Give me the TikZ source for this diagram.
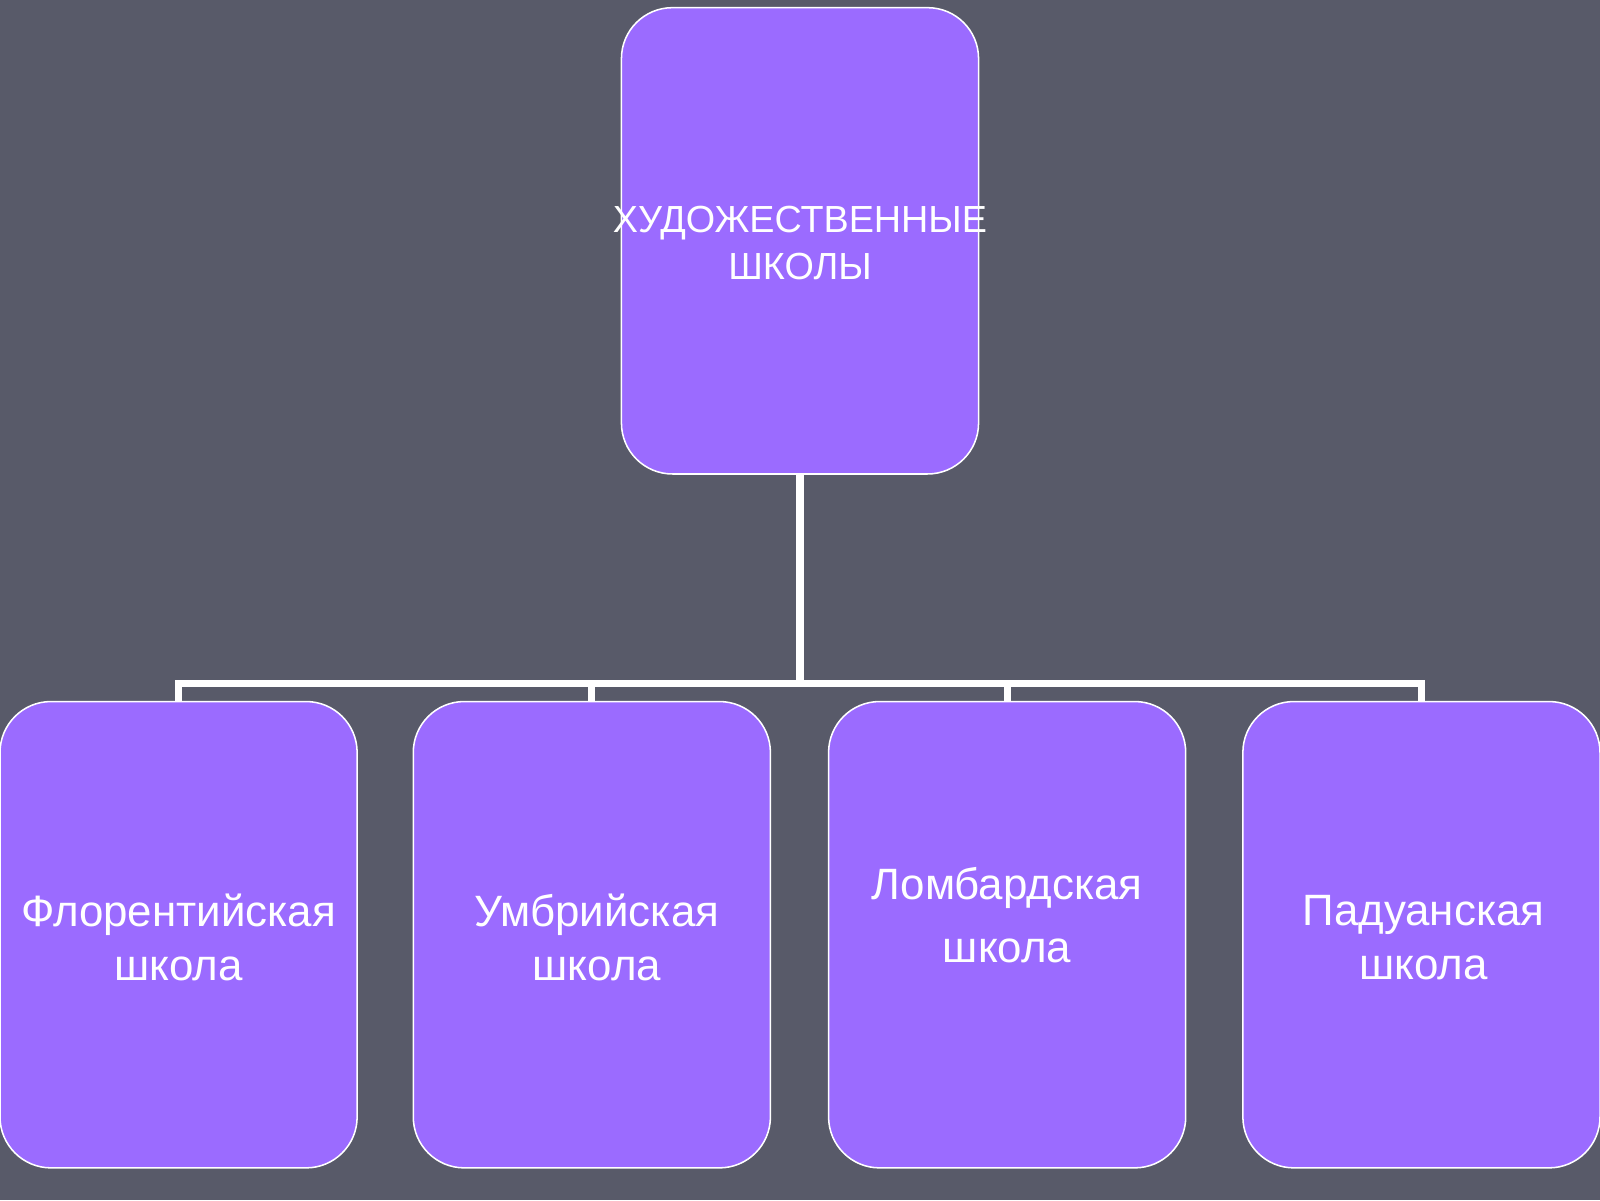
\documentclass[tikz,border=0pt]{standalone}
\usepackage{fontspec}
\setmainfont{Liberation Sans}
\definecolor{bg}{HTML}{585A69}
\definecolor{boxc}{HTML}{9B6BFF}
\begin{document}
\begin{tikzpicture}[x=1pt,y=-1pt,
  sbox/.style={draw=white,line width=1.5pt,fill=boxc,rounded corners=50pt,minimum width=350pt,minimum height=457pt,inner sep=0pt},
  lbl/.style={text=white,align=center,font=\fontsize{43}{53}\selectfont},
  conn/.style={draw=white,line width=7pt}]
\fill[bg] (0,0) rectangle (1568,1176);
\useasboundingbox (0,0) rectangle (1568,1176);
\node[sbox] (top) at (784,236) {};
\node[lbl,font=\fontsize{37}{46}\selectfont] (t0) at (784,238) {ХУДОЖЕСТВЕННЫЕ\\ШКОЛЫ};
\node[sbox] (b1) at (175,916) {};
\node[sbox] (b2) at (580,916) {};
\node[sbox] (b3) at (987,916) {};
\node[sbox] (b4) at (1393,916) {};
\node[lbl] (t1) at (175,919) {Флорентийская\\школа};
\node[lbl] (t2) at (585,919) {Умбрийская\\школа};
\node[lbl,font=\fontsize{43}{62}\selectfont] (t3) at (987,897) {Ломбардская\\школа};
\node[lbl] (t4) at (1395,919) {Падуанская\\школа};
\coordinate (h) at (784,670);
\draw[conn] (top.south) -- (h);
\draw[conn] (b1.north) -- (175,670) -- (1393,670) -- (b4.north);
\draw[conn] (b2.north) -- (580,670);
\draw[conn] (b3.north) -- (987,670);
\end{tikzpicture}
\end{document}
